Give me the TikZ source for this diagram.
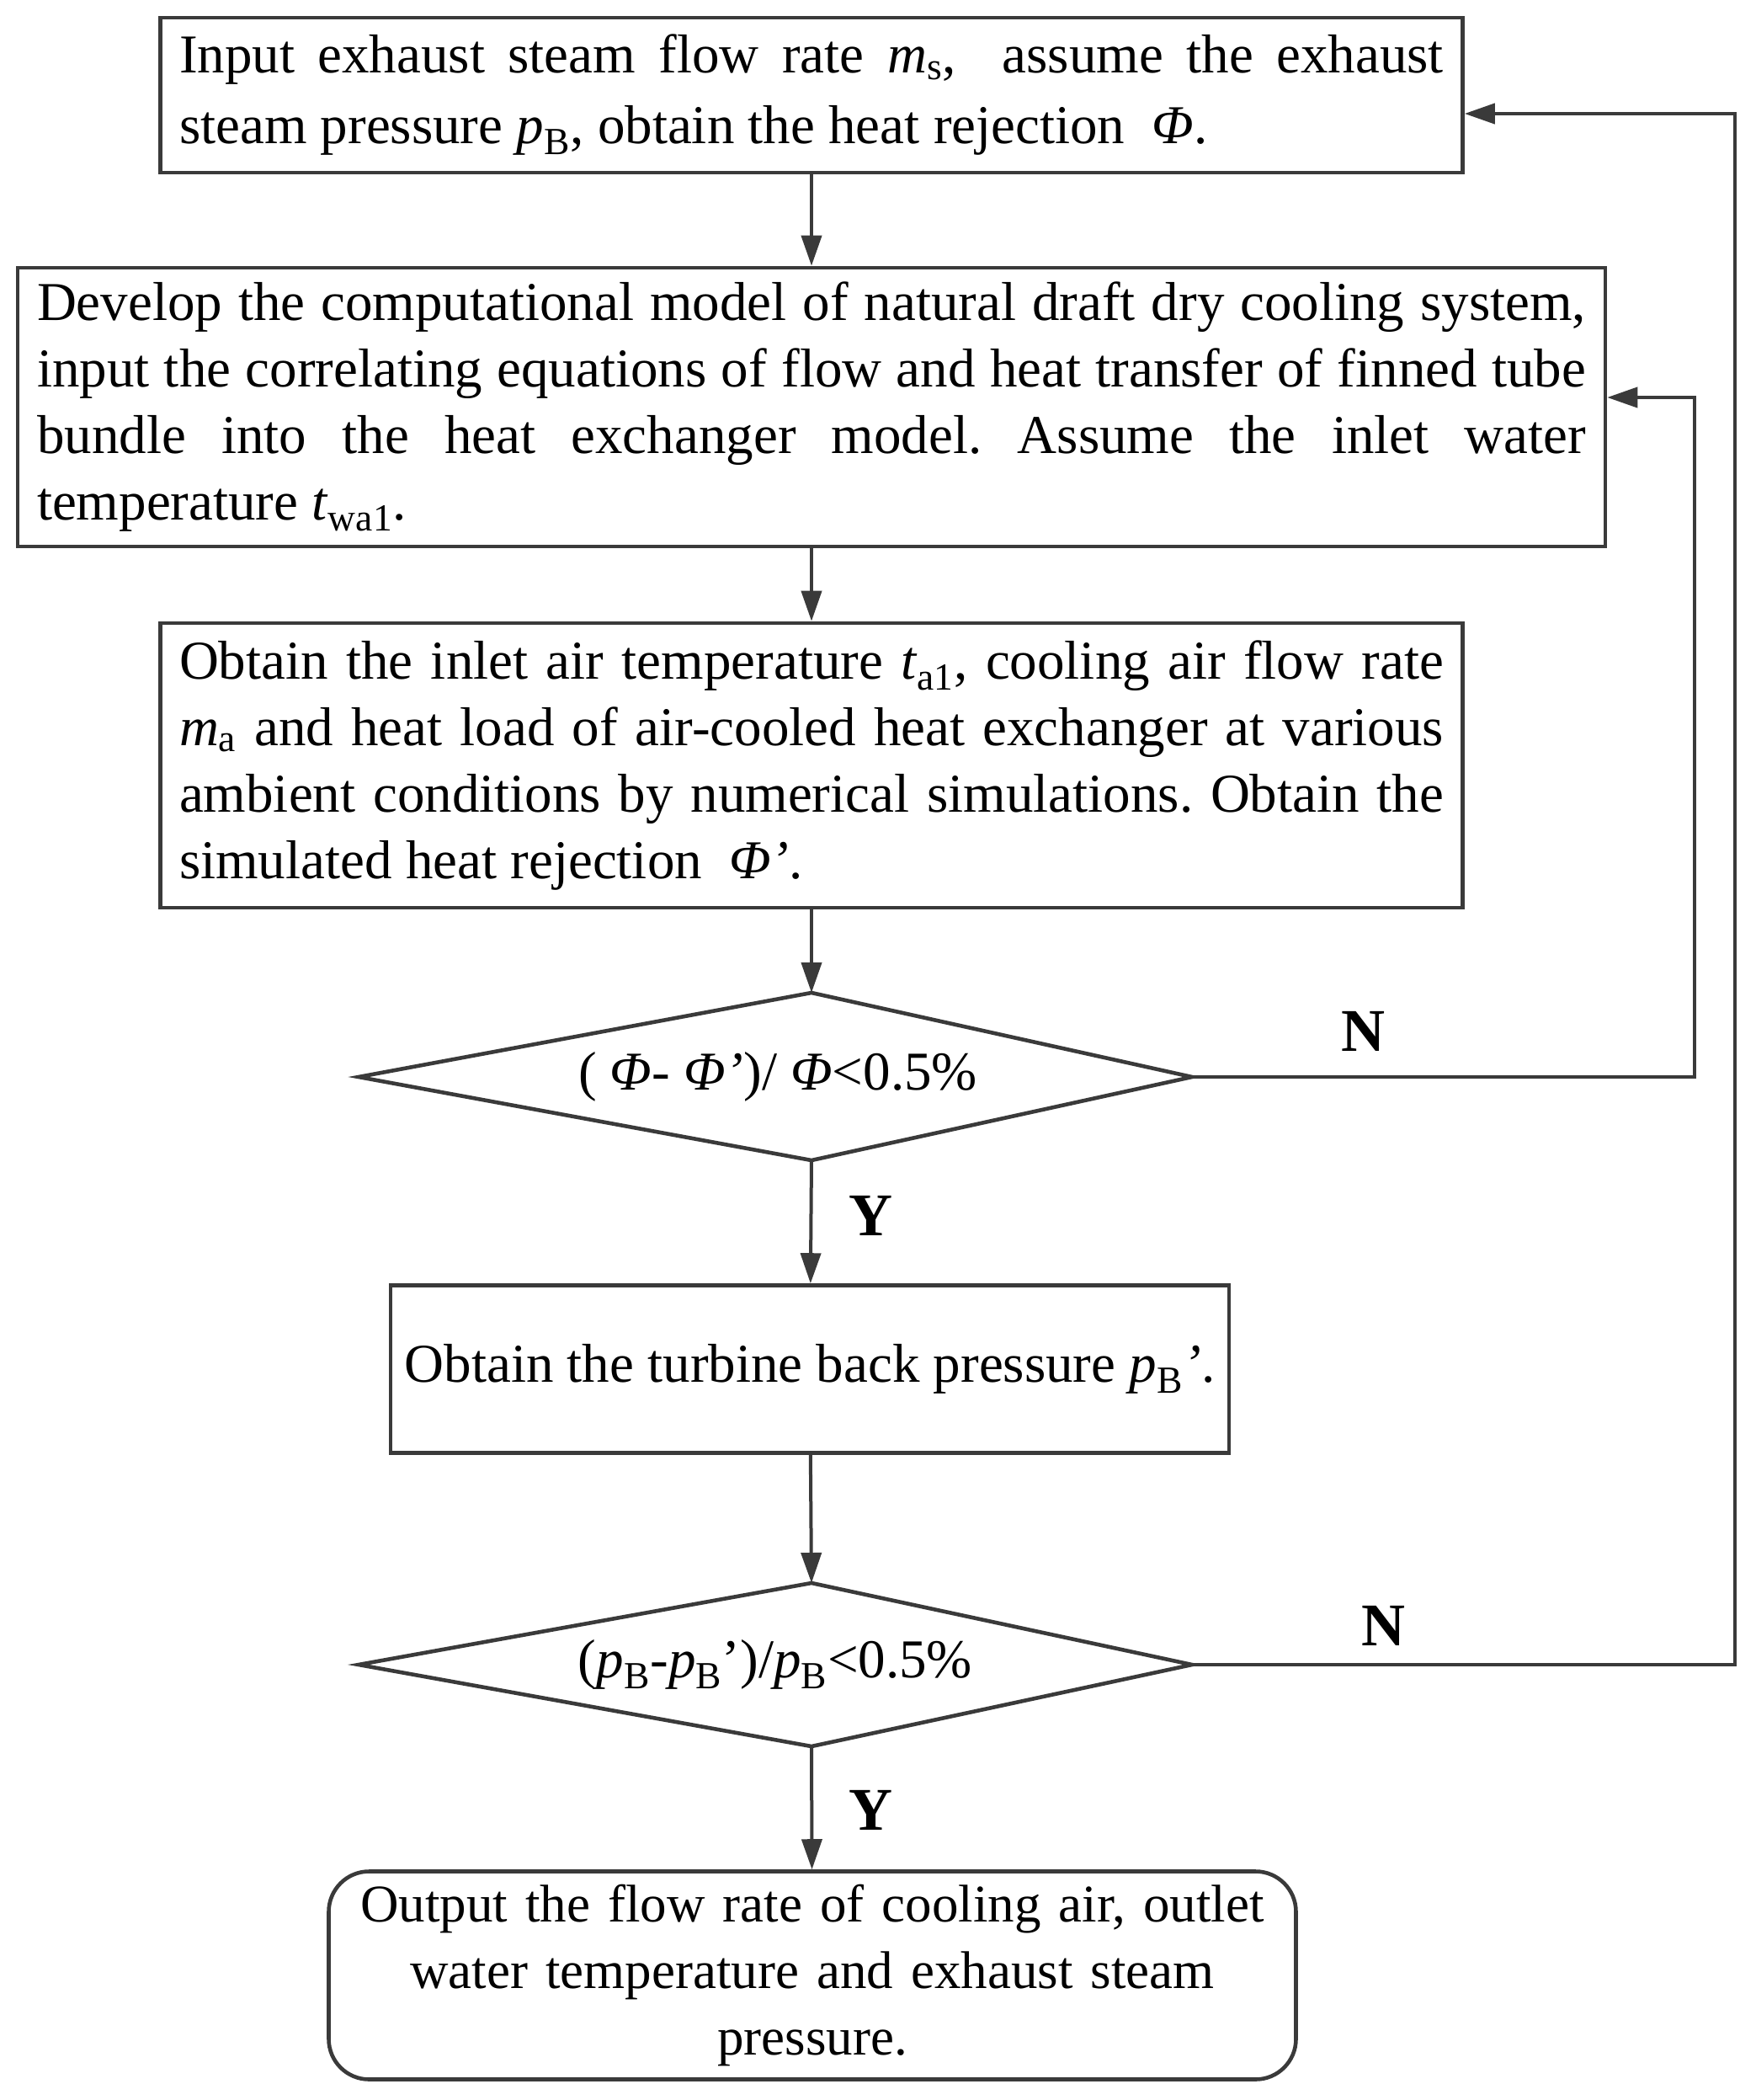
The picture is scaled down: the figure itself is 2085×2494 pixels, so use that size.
\documentclass[tikz,border=0pt]{standalone}
\usepackage{fontspec}
\setmainfont{Liberation Serif}
\usetikzlibrary{arrows.meta}
\definecolor{lc}{HTML}{3A3A3A}
\begin{document}
\frenchspacing
\begin{tikzpicture}[x=0.5pt,y=-0.5pt,
  box/.style={draw=lc,line width=2.3pt,fill=white,inner ysep=0pt,
    font=\fontsize{32.5}{39.5}\selectfont},
  diashape/.style={draw=lc,line width=2.3pt,line join=miter},
  dtext/.style={inner sep=0pt,font=\fontsize{32.5}{39.5}\selectfont},
  conn/.style={draw=lc,line width=2pt,-{Triangle[length=18pt,width=12pt]}},
  yn/.style={font=\fontsize{36}{40}\selectfont\bfseries}]
\useasboundingbox (0,0) rectangle (2085,2494);

\node[box,text width=751pt,inner xsep=11.25pt,minimum height=92pt,
  font=\fontsize{32.5}{42}\selectfont,align=justify] (b1) at (964,113)
  {Input exhaust steam flow rate \textit{m}\textsubscript{s},\ \ assume the exhaust\linebreak
   steam pressure \textit{p}\textsubscript{B}, obtain the heat rejection \ \textit{Φ}.};

\node[box,text width=920pt,inner xsep=11.5pt,minimum height=165.5pt,align=justify] (b2) at (964,483.5)
  {Develop the computational model of natural draft dry cooling system,\linebreak
   input the correlating equations of flow and heat transfer of finned tube\linebreak
   bundle into the heat exchanger model. Assume the inlet water\linebreak
   temperature \textit{t}\textsubscript{wa1}.};

\node[box,text width=751pt,inner xsep=11.25pt,minimum height=169pt,align=justify] (b3) at (964,909)
  {Obtain the inlet air temperature \textit{t}\textsubscript{a1}, cooling air flow rate\linebreak
   \textit{m}\textsubscript{a} and heat load of air-cooled heat exchanger at various\linebreak
   ambient conditions by numerical simulations. Obtain the\linebreak
   simulated heat rejection \ \textit{Φ'}.};

% decision 1
\coordinate (d1t) at (964,1179);
\coordinate (d1l) at (426,1279);
\coordinate (d1b) at (964,1378);
\coordinate (d1r) at (1416,1279);
\draw[diashape] (d1t) -- (d1r) -- (d1b) -- (d1l) -- cycle;
\node[dtext] (d1) at (924,1279) {( \textit{Φ}- \textit{Φ'})/ \textit{Φ}<0.5\%};

\node[box,minimum width=498pt,minimum height=99.5pt] (b4) at (962,1626)
  {Obtain the turbine back pressure \textit{p}\textsubscript{B}\textit{'}.};

% decision 2
\coordinate (d2t) at (964,1880);
\coordinate (d2l) at (426,1977);
\coordinate (d2b) at (964,2074);
\coordinate (d2r) at (1416,1977);
\draw[diashape] (d2t) -- (d2r) -- (d2b) -- (d2l) -- cycle;
\node[dtext] (d2) at (921,1977) {(\textit{p}\textsubscript{B}-\textit{p}\textsubscript{B}')/\textit{p}\textsubscript{B}<0.5\%};

\node[box,rounded corners=24pt,minimum width=574.5pt,minimum height=123.5pt,
  text width=560pt,align=center,font=\fontsize{31.5}{39.5}\selectfont] (b5) at (965,2346)
  {Output the flow rate of cooling air, outlet\\
   water temperature and exhaust steam\\
   pressure.};

\draw[conn] (b1) -- (b2);
\draw[conn] (b2) -- (b3);
\draw[conn] (b3) -- (d1t);
\draw[conn] (d1b) -- (b4);
\draw[conn] (b4) -- (d2t);
\draw[conn] (d2b) -- (b5);

\coordinate (f1) at (2013,472);
\coordinate (f2) at (2061,135);
\draw[conn] (d1r) -| (f1) -- (b2.east |- f1);
\draw[conn] (d2r) -| (f2) -- (b1.east |- f2);

\node[yn] (n1) at (1619,1225) {N};
\node[yn] (n2) at (1643,1931) {N};
\node[yn] (y1) at (1034,1444) {Y};
\node[yn] (y2) at (1034,2150) {Y};
\end{tikzpicture}
\end{document}
